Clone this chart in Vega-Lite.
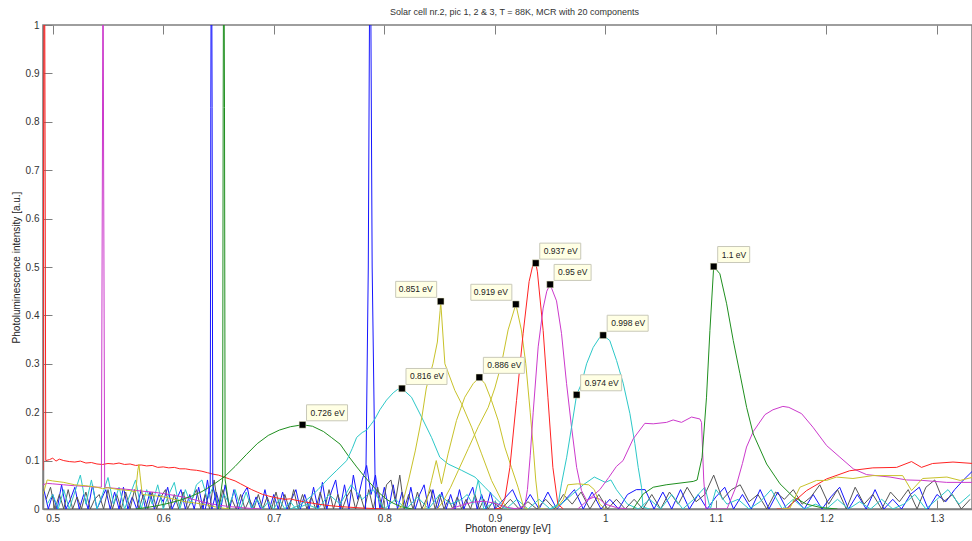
{
"$schema": "https://vega.github.io/schema/vega-lite/v6.json",
"autosize": {"type": "none"},
"padding": {"left": 43, "top": 25, "right": 0, "bottom": 32},
"width": 929,
"height": 484,
"background": "white",
"title": {"text": "Solar cell nr.2, pic 1, 2 & 3, T = 88K, MCR with 20 components", "fontSize": 9, "fontWeight": "normal", "color": "#333", "offset": 3, "dx": 7},
"config": {"font": "Liberation Sans", "view": {"stroke": "#7f7f7f", "strokeWidth": 1.5},
 "axisY": {"grid": false, "tickSize": -9, "labelPadding": 13, "tickColor": "#7f7f7f", "domainColor": "#7f7f7f", "domainWidth": 1.5, "labelFontSize": 10, "labelColor": "#333", "titleFontSize": 10, "titleFontWeight": "normal", "titleColor": "#222", "titlePadding": 4, "labelFlush": false}},
"datasets": {
"tips": [
{"x": 0.726, "y": 0.174, "label": "0.726 eV"},
{"x": 0.816, "y": 0.249, "label": "0.816 eV"},
{"x": 0.851, "y": 0.429, "label": "0.851 eV"},
{"x": 0.886, "y": 0.272, "label": "0.886 eV"},
{"x": 0.919, "y": 0.423, "label": "0.919 eV"},
{"x": 0.937, "y": 0.508, "label": "0.937 eV"},
{"x": 0.95, "y": 0.464, "label": "0.95 eV"},
{"x": 0.974, "y": 0.236, "label": "0.974 eV"},
{"x": 0.998, "y": 0.359, "label": "0.998 eV"},
{"x": 1.098, "y": 0.501, "label": "1.1 eV"}
],
"lines": [
{"s":"b3","x":0.492,"y":0.04},{"s":"b3","x":0.496,"y":0},{"s":"b3","x":0.5,"y":0.03},{"s":"b3","x":0.504,"y":0},{"s":"b3","x":0.508,"y":0.05},{"s":"b3","x":0.512,"y":0},{"s":"b3","x":0.516,"y":0.02},{"s":"b3","x":0.52,"y":0.045},{"s":"b3","x":0.524,"y":0},{"s":"b3","x":0.528,"y":0.03},{"s":"b3","x":0.532,"y":0},{"s":"b3","x":0.536,"y":0.05},{"s":"b3","x":0.54,"y":0},{"s":"b3","x":0.544,"y":0.02},{"s":"b3","x":0.548,"y":0.04},{"s":"b3","x":0.552,"y":0},{"s":"b3","x":0.556,"y":0.035},{"s":"b3","x":0.56,"y":0},{"s":"b3","x":0.564,"y":0.045},{"s":"b3","x":0.568,"y":0},{"s":"b3","x":0.572,"y":0.025},{"s":"b3","x":0.576,"y":0},{"s":"b3","x":0.58,"y":0.04},{"s":"b3","x":0.584,"y":0},{"s":"b3","x":0.588,"y":0.035},{"s":"b3","x":0.592,"y":0},{"s":"b3","x":0.596,"y":0.03},{"s":"b3","x":0.6,"y":0.015},{"s":"b3","x":0.604,"y":0.045},{"s":"b3","x":0.608,"y":0},{"s":"b3","x":0.612,"y":0.02},{"s":"b3","x":0.616,"y":0.04},{"s":"b3","x":0.62,"y":0},{"s":"b3","x":0.624,"y":0.03},{"s":"b3","x":0.628,"y":0},{"s":"b3","x":0.632,"y":0.045},{"s":"b3","x":0.636,"y":0},{"s":"b3","x":0.64,"y":0.06},{"s":"b3","x":0.644,"y":0},{"s":"b3","x":0.648,"y":0.035},{"s":"b3","x":0.652,"y":0},{"s":"b3","x":0.656,"y":0.05},{"s":"b3","x":0.66,"y":0},{"s":"b3","x":0.664,"y":0.04},{"s":"b3","x":0.668,"y":0},{"s":"b3","x":0.672,"y":0.03},{"s":"b3","x":0.676,"y":0.045},{"s":"b3","x":0.68,"y":0},{"s":"b3","x":0.684,"y":0.025},{"s":"b3","x":0.688,"y":0},{"s":"b3","x":0.692,"y":0.04},{"s":"b3","x":0.696,"y":0},{"s":"b3","x":0.7,"y":0.03},{"s":"b3","x":0.704,"y":0},{"s":"b3","x":0.708,"y":0.035},{"s":"b3","x":0.712,"y":0},{"s":"b3","x":0.716,"y":0.02},{"s":"b3","x":0.72,"y":0.04},{"s":"b3","x":0.724,"y":0},{"s":"b3","x":0.728,"y":0.03},{"s":"b3","x":0.732,"y":0},{"s":"b3","x":0.736,"y":0.045},{"s":"b3","x":0.74,"y":0},{"s":"b3","x":0.744,"y":0.055},{"s":"b3","x":0.748,"y":0},{"s":"b3","x":0.752,"y":0.035},{"s":"b3","x":0.756,"y":0.06},{"s":"b3","x":0.76,"y":0},{"s":"b3","x":0.764,"y":0.05},{"s":"b3","x":0.768,"y":0},{"s":"b3","x":0.772,"y":0.07},{"s":"b3","x":0.776,"y":0.02},{"s":"b3","x":0.78,"y":0.06},{"s":"b3","x":0.784,"y":0.09},{"s":"b3","x":0.788,"y":0.03},{"s":"b3","x":0.792,"y":0.07},{"s":"b3","x":0.796,"y":0},{"s":"b3","x":0.8,"y":0.045},{"s":"b3","x":0.804,"y":0},{"s":"b3","x":0.808,"y":0.05},{"s":"b3","x":0.812,"y":0},{"s":"b3","x":0.816,"y":0.035},{"s":"b3","x":0.82,"y":0},{"s":"b3","x":0.824,"y":0.045},{"s":"b3","x":0.828,"y":0},{"s":"b3","x":0.832,"y":0.03},{"s":"b3","x":0.836,"y":0.05},{"s":"b3","x":0.84,"y":0},{"s":"b3","x":0.844,"y":0.04},{"s":"b3","x":0.848,"y":0},{"s":"b3","x":0.852,"y":0.035},{"s":"b3","x":0.856,"y":0},{"s":"b3","x":0.86,"y":0.03},{"s":"b3","x":0.864,"y":0},{"s":"b3","x":0.868,"y":0.04},{"s":"b3","x":0.872,"y":0},{"s":"b3","x":0.876,"y":0.025},{"s":"b3","x":0.88,"y":0.045},{"s":"b3","x":0.884,"y":0},{"s":"b3","x":0.888,"y":0.03},{"s":"b3","x":0.892,"y":0},{"s":"b3","x":0.896,"y":0.035},{"s":"b3","x":0.9,"y":0},{"s":"b3","x":0.908,"y":0.02},{"s":"b3","x":0.916,"y":0.04},{"s":"b3","x":0.924,"y":0},{"s":"b3","x":0.932,"y":0.03},{"s":"b3","x":0.94,"y":0},{"s":"b3","x":0.948,"y":0.035},{"s":"b3","x":0.956,"y":0},{"s":"b3","x":0.964,"y":0.02},{"s":"b3","x":0.972,"y":0.04},{"s":"b3","x":0.98,"y":0},{"s":"b3","x":0.988,"y":0.035},{"s":"b3","x":0.996,"y":0},{"s":"b3","x":1.004,"y":0.02},{"s":"b3","x":1.012,"y":0},{"s":"b3","x":1.02,"y":0.03},{"s":"b3","x":1.028,"y":0.04},{"s":"b3","x":1.036,"y":0.04},{"s":"b3","x":1.044,"y":0},{"s":"b3","x":1.052,"y":0.035},{"s":"b3","x":1.06,"y":0},{"s":"b3","x":1.068,"y":0.04},{"s":"b3","x":1.076,"y":0},{"s":"b3","x":1.084,"y":0.03},{"s":"b3","x":1.092,"y":0},{"s":"b3","x":1.1,"y":0.025},{"s":"b3","x":1.108,"y":0.045},{"s":"b3","x":1.116,"y":0},{"s":"b3","x":1.124,"y":0.03},{"s":"b3","x":1.132,"y":0},{"s":"b3","x":1.14,"y":0.04},{"s":"b3","x":1.148,"y":0},{"s":"b3","x":1.156,"y":0.035},{"s":"b3","x":1.164,"y":0},{"s":"b3","x":1.172,"y":0.02},{"s":"b3","x":1.18,"y":0},{"s":"b3","x":1.188,"y":0.03},{"s":"b3","x":1.196,"y":0},{"s":"b3","x":1.204,"y":0.025},{"s":"b3","x":1.212,"y":0.045},{"s":"b3","x":1.22,"y":0},{"s":"b3","x":1.228,"y":0.03},{"s":"b3","x":1.236,"y":0},{"s":"b3","x":1.244,"y":0.04},{"s":"b3","x":1.252,"y":0},{"s":"b3","x":1.26,"y":0.02},{"s":"b3","x":1.268,"y":0},{"s":"b3","x":1.276,"y":0.03},{"s":"b3","x":1.284,"y":0.045},{"s":"b3","x":1.292,"y":0},{"s":"b3","x":1.3,"y":0.03},{"s":"b3","x":1.308,"y":0.015},{"s":"b3","x":1.316,"y":0.04},{"s":"b3","x":1.324,"y":0.06},{"s":"b3","x":1.332,"y":0.078},
{"s":"k1","x":0.494,"y":0.02},{"s":"k1","x":0.498,"y":0.045},{"s":"k1","x":0.502,"y":0},{"s":"k1","x":0.506,"y":0.03},{"s":"k1","x":0.51,"y":0},{"s":"k1","x":0.514,"y":0.04},{"s":"k1","x":0.518,"y":0},{"s":"k1","x":0.522,"y":0.025},{"s":"k1","x":0.526,"y":0},{"s":"k1","x":0.53,"y":0.035},{"s":"k1","x":0.534,"y":0},{"s":"k1","x":0.538,"y":0.02},{"s":"k1","x":0.542,"y":0.03},{"s":"k1","x":0.546,"y":0},{"s":"k1","x":0.55,"y":0.04},{"s":"k1","x":0.554,"y":0},{"s":"k1","x":0.558,"y":0.03},{"s":"k1","x":0.562,"y":0},{"s":"k1","x":0.566,"y":0.035},{"s":"k1","x":0.57,"y":0},{"s":"k1","x":0.574,"y":0.04},{"s":"k1","x":0.578,"y":0},{"s":"k1","x":0.582,"y":0.03},{"s":"k1","x":0.586,"y":0},{"s":"k1","x":0.59,"y":0.035},{"s":"k1","x":0.594,"y":0},{"s":"k1","x":0.598,"y":0.025},{"s":"k1","x":0.602,"y":0.04},{"s":"k1","x":0.606,"y":0},{"s":"k1","x":0.61,"y":0.03},{"s":"k1","x":0.614,"y":0},{"s":"k1","x":0.618,"y":0.035},{"s":"k1","x":0.622,"y":0},{"s":"k1","x":0.626,"y":0.02},{"s":"k1","x":0.63,"y":0.04},{"s":"k1","x":0.634,"y":0},{"s":"k1","x":0.638,"y":0.03},{"s":"k1","x":0.642,"y":0},{"s":"k1","x":0.646,"y":0.06},{"s":"k1","x":0.65,"y":0},{"s":"k1","x":0.654,"y":0.04},{"s":"k1","x":0.658,"y":0},{"s":"k1","x":0.662,"y":0.02},{"s":"k1","x":0.666,"y":0},{"s":"k1","x":0.67,"y":0.03},{"s":"k1","x":0.674,"y":0},{"s":"k1","x":0.678,"y":0.02},{"s":"k1","x":0.682,"y":0},{"s":"k1","x":0.686,"y":0.03},{"s":"k1","x":0.69,"y":0},{"s":"k1","x":0.694,"y":0.025},{"s":"k1","x":0.698,"y":0},{"s":"k1","x":0.702,"y":0.035},{"s":"k1","x":0.706,"y":0},{"s":"k1","x":0.71,"y":0.03},{"s":"k1","x":0.714,"y":0},{"s":"k1","x":0.718,"y":0.04},{"s":"k1","x":0.722,"y":0},{"s":"k1","x":0.726,"y":0.03},{"s":"k1","x":0.73,"y":0},{"s":"k1","x":0.734,"y":0.025},{"s":"k1","x":0.738,"y":0},{"s":"k1","x":0.742,"y":0.035},{"s":"k1","x":0.746,"y":0},{"s":"k1","x":0.75,"y":0.04},{"s":"k1","x":0.754,"y":0},{"s":"k1","x":0.758,"y":0.03},{"s":"k1","x":0.762,"y":0},{"s":"k1","x":0.766,"y":0.025},{"s":"k1","x":0.77,"y":0.04},{"s":"k1","x":0.774,"y":0},{"s":"k1","x":0.778,"y":0.03},{"s":"k1","x":0.782,"y":0},{"s":"k1","x":0.786,"y":0.04},{"s":"k1","x":0.79,"y":0},{"s":"k1","x":0.794,"y":0.045},{"s":"k1","x":0.798,"y":0},{"s":"k1","x":0.802,"y":0.05},{"s":"k1","x":0.806,"y":0.06},{"s":"k1","x":0.81,"y":0.015},{"s":"k1","x":0.814,"y":0.07},{"s":"k1","x":0.818,"y":0},{"s":"k1","x":0.822,"y":0.03},{"s":"k1","x":0.826,"y":0},{"s":"k1","x":0.83,"y":0.035},{"s":"k1","x":0.834,"y":0},{"s":"k1","x":0.838,"y":0.02},{"s":"k1","x":0.842,"y":0.04},{"s":"k1","x":0.846,"y":0},{"s":"k1","x":0.85,"y":0.03},{"s":"k1","x":0.854,"y":0},{"s":"k1","x":0.858,"y":0.02},{"s":"k1","x":0.862,"y":0},{"s":"k1","x":0.866,"y":0.025},{"s":"k1","x":0.87,"y":0},{"s":"k1","x":0.874,"y":0.02},{"s":"k1","x":0.878,"y":0},{"s":"k1","x":0.882,"y":0.03},{"s":"k1","x":0.886,"y":0},{"s":"k1","x":0.89,"y":0.02},{"s":"k1","x":0.894,"y":0},{"s":"k1","x":0.898,"y":0.015},{"s":"k1","x":0.906,"y":0},{"s":"k1","x":0.914,"y":0.02},{"s":"k1","x":0.922,"y":0},{"s":"k1","x":0.93,"y":0.015},{"s":"k1","x":0.938,"y":0},{"s":"k1","x":0.946,"y":0.02},{"s":"k1","x":0.954,"y":0},{"s":"k1","x":0.962,"y":0.03},{"s":"k1","x":0.97,"y":0.01},{"s":"k1","x":0.978,"y":0.035},{"s":"k1","x":0.986,"y":0},{"s":"k1","x":0.994,"y":0.03},{"s":"k1","x":1.002,"y":0},{"s":"k1","x":1.01,"y":0.02},{"s":"k1","x":1.018,"y":0},{"s":"k1","x":1.026,"y":0.02},{"s":"k1","x":1.034,"y":0},{"s":"k1","x":1.042,"y":0.03},{"s":"k1","x":1.05,"y":0},{"s":"k1","x":1.058,"y":0.035},{"s":"k1","x":1.066,"y":0.01},{"s":"k1","x":1.074,"y":0.045},{"s":"k1","x":1.082,"y":0.015},{"s":"k1","x":1.09,"y":0.03},{"s":"k1","x":1.098,"y":0.07},{"s":"k1","x":1.106,"y":0.02},{"s":"k1","x":1.114,"y":0.04},{"s":"k1","x":1.122,"y":0.05},{"s":"k1","x":1.13,"y":0.015},{"s":"k1","x":1.138,"y":0.03},{"s":"k1","x":1.146,"y":0},{"s":"k1","x":1.154,"y":0.035},{"s":"k1","x":1.162,"y":0.02},{"s":"k1","x":1.17,"y":0.04},{"s":"k1","x":1.178,"y":0.01},{"s":"k1","x":1.186,"y":0.025},{"s":"k1","x":1.194,"y":0.05},{"s":"k1","x":1.202,"y":0.01},{"s":"k1","x":1.21,"y":0.04},{"s":"k1","x":1.218,"y":0},{"s":"k1","x":1.226,"y":0.045},{"s":"k1","x":1.234,"y":0.01},{"s":"k1","x":1.242,"y":0.03},{"s":"k1","x":1.25,"y":0},{"s":"k1","x":1.258,"y":0.035},{"s":"k1","x":1.266,"y":0.015},{"s":"k1","x":1.274,"y":0.04},{"s":"k1","x":1.282,"y":0},{"s":"k1","x":1.29,"y":0.045},{"s":"k1","x":1.298,"y":0.06},{"s":"k1","x":1.306,"y":0.015},{"s":"k1","x":1.314,"y":0.03},{"s":"k1","x":1.322,"y":0},{"s":"k1","x":1.33,"y":0.02},
{"s":"c4","x":0.495,"y":0.01},{"s":"c4","x":0.5,"y":0.03},{"s":"c4","x":0.505,"y":0},{"s":"c4","x":0.51,"y":0.04},{"s":"c4","x":0.515,"y":0},{"s":"c4","x":0.52,"y":0.035},{"s":"c4","x":0.525,"y":0.07},{"s":"c4","x":0.53,"y":0.01},{"s":"c4","x":0.535,"y":0.06},{"s":"c4","x":0.54,"y":0},{"s":"c4","x":0.545,"y":0.03},{"s":"c4","x":0.55,"y":0.065},{"s":"c4","x":0.555,"y":0.01},{"s":"c4","x":0.56,"y":0.045},{"s":"c4","x":0.565,"y":0},{"s":"c4","x":0.57,"y":0.03},{"s":"c4","x":0.575,"y":0.06},{"s":"c4","x":0.58,"y":0},{"s":"c4","x":0.585,"y":0.04},{"s":"c4","x":0.59,"y":0.01},{"s":"c4","x":0.595,"y":0.05},{"s":"c4","x":0.6,"y":0},{"s":"c4","x":0.605,"y":0.03},{"s":"c4","x":0.61,"y":0.055},{"s":"c4","x":0.615,"y":0},{"s":"c4","x":0.62,"y":0.04},{"s":"c4","x":0.625,"y":0.01},{"s":"c4","x":0.63,"y":0.05},{"s":"c4","x":0.635,"y":0.06},{"s":"c4","x":0.64,"y":0.02},{"s":"c4","x":0.645,"y":0.045},{"s":"c4","x":0.65,"y":0},{"s":"c4","x":0.655,"y":0.03},{"s":"c4","x":0.66,"y":0.01},{"s":"c4","x":0.665,"y":0.04},{"s":"c4","x":0.67,"y":0},{"s":"c4","x":0.675,"y":0.035},{"s":"c4","x":0.68,"y":0},{"s":"c4","x":0.685,"y":0.02},{"s":"c4","x":0.69,"y":0},{"s":"c4","x":0.695,"y":0.015},{"s":"c4","x":0.7,"y":0},{"s":"c4","x":0.705,"y":0.02},{"s":"c4","x":0.71,"y":0},{"s":"c4","x":0.715,"y":0.015},{"s":"c4","x":0.72,"y":0},{"s":"c4","x":0.73,"y":0.01},{"s":"c4","x":0.74,"y":0},{"s":"c4","x":0.75,"y":0.03},{"s":"c4","x":0.76,"y":0.01},{"s":"c4","x":0.77,"y":0.05},{"s":"c4","x":0.78,"y":0.02},{"s":"c4","x":0.79,"y":0.04},{"s":"c4","x":0.8,"y":0},{"s":"c4","x":0.81,"y":0.02},{"s":"c4","x":0.82,"y":0},{"s":"c4","x":0.83,"y":0.025},{"s":"c4","x":0.84,"y":0},{"s":"c4","x":0.85,"y":0.03},{"s":"c4","x":0.86,"y":0.01},{"s":"c4","x":0.87,"y":0.02},{"s":"c4","x":0.875,"y":0.03},{"s":"c4","x":0.88,"y":0.01},{"s":"c4","x":0.885,"y":0.06},{"s":"c4","x":0.89,"y":0},{"s":"c4","x":0.9,"y":0.015},{"s":"c4","x":0.91,"y":0},{"s":"c4","x":0.92,"y":0.02},{"s":"c4","x":0.93,"y":0},{"s":"c4","x":0.94,"y":0.02},{"s":"c4","x":0.95,"y":0},{"s":"c4","x":0.96,"y":0.01},{"s":"c4","x":0.97,"y":0.03},{"s":"c4","x":0.98,"y":0.05},{"s":"c4","x":0.99,"y":0.066},{"s":"c4","x":1.0,"y":0.055},{"s":"c4","x":1.005,"y":0.06},{"s":"c4","x":1.01,"y":0.04},{"s":"c4","x":1.02,"y":0.01},{"s":"c4","x":1.03,"y":0},{"s":"c4","x":1.04,"y":0.02},{"s":"c4","x":1.05,"y":0},{"s":"c4","x":1.06,"y":0.03},{"s":"c4","x":1.07,"y":0},{"s":"c4","x":1.08,"y":0.02},{"s":"c4","x":1.09,"y":0.045},{"s":"c4","x":1.095,"y":0},{"s":"c4","x":1.1,"y":0.04},{"s":"c4","x":1.11,"y":0.01},{"s":"c4","x":1.12,"y":0.02},{"s":"c4","x":1.13,"y":0},{"s":"c4","x":1.14,"y":0.015},{"s":"c4","x":1.15,"y":0.04},{"s":"c4","x":1.16,"y":0},{"s":"c4","x":1.17,"y":0.02},{"s":"c4","x":1.18,"y":0},{"s":"c4","x":1.19,"y":0.01},{"s":"c4","x":1.2,"y":0},{"s":"c4","x":1.21,"y":0.02},{"s":"c4","x":1.22,"y":0},{"s":"c4","x":1.23,"y":0.015},{"s":"c4","x":1.24,"y":0},{"s":"c4","x":1.25,"y":0.02},{"s":"c4","x":1.26,"y":0},{"s":"c4","x":1.27,"y":0.01},{"s":"c4","x":1.28,"y":0.03},{"s":"c4","x":1.29,"y":0},{"s":"c4","x":1.3,"y":0.02},{"s":"c4","x":1.31,"y":0.04},{"s":"c4","x":1.32,"y":0.01},{"s":"c4","x":1.33,"y":0.03},
{"s":"r1","x":0.4912,"y":0.08},{"s":"r1","x":0.4918,"y":0.75},{"s":"r1","x":0.4925,"y":1.3},{"s":"r1","x":0.4931,"y":0.75},{"s":"r1","x":0.4937,"y":0.1},{"s":"r1","x":0.497,"y":0.102},{"s":"r1","x":0.5,"y":0.105},{"s":"r1","x":0.503,"y":0.099},{"s":"r1","x":0.506,"y":0.103},{"s":"r1","x":0.51,"y":0.1},{"s":"r1","x":0.515,"y":0.098},{"s":"r1","x":0.52,"y":0.097},{"s":"r1","x":0.525,"y":0.099},{"s":"r1","x":0.53,"y":0.095},{"s":"r1","x":0.535,"y":0.096},{"s":"r1","x":0.54,"y":0.093},{"s":"r1","x":0.545,"y":0.092},{"s":"r1","x":0.55,"y":0.094},{"s":"r1","x":0.555,"y":0.093},{"s":"r1","x":0.56,"y":0.095},{"s":"r1","x":0.565,"y":0.092},{"s":"r1","x":0.57,"y":0.093},{"s":"r1","x":0.575,"y":0.09},{"s":"r1","x":0.58,"y":0.091},{"s":"r1","x":0.585,"y":0.089},{"s":"r1","x":0.59,"y":0.09},{"s":"r1","x":0.595,"y":0.086},{"s":"r1","x":0.6,"y":0.087},{"s":"r1","x":0.605,"y":0.085},{"s":"r1","x":0.61,"y":0.086},{"s":"r1","x":0.615,"y":0.083},{"s":"r1","x":0.62,"y":0.083},{"s":"r1","x":0.625,"y":0.081},{"s":"r1","x":0.63,"y":0.08},{"s":"r1","x":0.635,"y":0.078},{"s":"r1","x":0.64,"y":0.075},{"s":"r1","x":0.645,"y":0.072},{"s":"r1","x":0.65,"y":0.07},{"s":"r1","x":0.655,"y":0.066},{"s":"r1","x":0.66,"y":0.062},{"s":"r1","x":0.665,"y":0.058},{"s":"r1","x":0.67,"y":0.052},{"s":"r1","x":0.675,"y":0.046},{"s":"r1","x":0.68,"y":0.04},{"s":"r1","x":0.685,"y":0.035},{"s":"r1","x":0.69,"y":0.03},{"s":"r1","x":0.695,"y":0.027},{"s":"r1","x":0.7,"y":0.024},{"s":"r1","x":0.705,"y":0.022},{"s":"r1","x":0.71,"y":0.02},{"s":"r1","x":0.715,"y":0.021},{"s":"r1","x":0.72,"y":0.018},{"s":"r1","x":0.73,"y":0.014},{"s":"r1","x":0.74,"y":0.01},{"s":"r1","x":0.75,"y":0.007},{"s":"r1","x":0.76,"y":0.005},{"s":"r1","x":0.78,"y":0.002},{"s":"r1","x":0.8,"y":0},
{"s":"m1","x":0.4912,"y":0.05},{"s":"m1","x":0.495,"y":0.053},{"s":"m1","x":0.5,"y":0.052},{"s":"m1","x":0.51,"y":0.05},{"s":"m1","x":0.52,"y":0.048},{"s":"m1","x":0.53,"y":0.047},{"s":"m1","x":0.54,"y":0.045},{"s":"m1","x":0.544,"y":0.045},{"s":"m1","x":0.545,"y":0.75},{"s":"m1","x":0.5455,"y":1.3},{"s":"m1","x":0.546,"y":0.75},{"s":"m1","x":0.547,"y":0.045},{"s":"m1","x":0.55,"y":0.044},{"s":"m1","x":0.56,"y":0.042},{"s":"m1","x":0.57,"y":0.04},{"s":"m1","x":0.58,"y":0.037},{"s":"m1","x":0.59,"y":0.035},{"s":"m1","x":0.6,"y":0.032},{"s":"m1","x":0.61,"y":0.028},{"s":"m1","x":0.62,"y":0.024},{"s":"m1","x":0.63,"y":0.018},{"s":"m1","x":0.64,"y":0.012},{"s":"m1","x":0.65,"y":0.008},{"s":"m1","x":0.66,"y":0.005},{"s":"m1","x":0.67,"y":0.003},{"s":"m1","x":0.68,"y":0.001},{"s":"m1","x":0.69,"y":0},
{"s":"y1","x":0.4912,"y":0.03},{"s":"y1","x":0.495,"y":0.06},{"s":"y1","x":0.5,"y":0.058},{"s":"y1","x":0.51,"y":0.055},{"s":"y1","x":0.52,"y":0.05},{"s":"y1","x":0.53,"y":0.048},{"s":"y1","x":0.54,"y":0.045},{"s":"y1","x":0.545,"y":0.042},{"s":"y1","x":0.55,"y":0.044},{"s":"y1","x":0.56,"y":0.04},{"s":"y1","x":0.57,"y":0.038},{"s":"y1","x":0.575,"y":0.035},{"s":"y1","x":0.577,"y":0.08},{"s":"y1","x":0.578,"y":0.092},{"s":"y1","x":0.579,"y":0.07},{"s":"y1","x":0.581,"y":0.03},{"s":"y1","x":0.59,"y":0.028},{"s":"y1","x":0.6,"y":0.025},{"s":"y1","x":0.61,"y":0.02},{"s":"y1","x":0.62,"y":0.015},{"s":"y1","x":0.63,"y":0.012},{"s":"y1","x":0.64,"y":0.008},{"s":"y1","x":0.65,"y":0.003},{"s":"y1","x":0.66,"y":0},
{"s":"b1","x":0.638,"y":0},{"s":"b1","x":0.6425,"y":0.05},{"s":"b1","x":0.643,"y":0.83},{"s":"b1","x":0.6436,"y":1.3},{"s":"b1","x":0.6442,"y":0.83},{"s":"b1","x":0.6448,"y":0.05},{"s":"b1","x":0.649,"y":0},
{"s":"g1","x":0.65,"y":0},{"s":"g1","x":0.6537,"y":0.06},{"s":"g1","x":0.6542,"y":0.83},{"s":"g1","x":0.6548,"y":1.3},{"s":"g1","x":0.6554,"y":0.83},{"s":"g1","x":0.656,"y":0.06},{"s":"g1","x":0.66,"y":0},
{"s":"b2","x":0.783,"y":0},{"s":"b2","x":0.7855,"y":0.5},{"s":"b2","x":0.7872,"y":1.3},{"s":"b2","x":0.789,"y":0.5},{"s":"b2","x":0.792,"y":0},
{"s":"g2","x":0.575,"y":0},{"s":"g2","x":0.585,"y":0.003},{"s":"g2","x":0.595,"y":0.007},{"s":"g2","x":0.605,"y":0.012},{"s":"g2","x":0.615,"y":0.018},{"s":"g2","x":0.625,"y":0.026},{"s":"g2","x":0.635,"y":0.036},{"s":"g2","x":0.645,"y":0.05},{"s":"g2","x":0.655,"y":0.066},{"s":"g2","x":0.665,"y":0.088},{"s":"g2","x":0.675,"y":0.112},{"s":"g2","x":0.685,"y":0.135},{"s":"g2","x":0.695,"y":0.152},{"s":"g2","x":0.705,"y":0.163},{"s":"g2","x":0.715,"y":0.17},{"s":"g2","x":0.726,"y":0.174},{"s":"g2","x":0.735,"y":0.171},{"s":"g2","x":0.745,"y":0.16},{"s":"g2","x":0.752,"y":0.148},{"s":"g2","x":0.76,"y":0.134},{"s":"g2","x":0.768,"y":0.108},{"s":"g2","x":0.775,"y":0.087},{"s":"g2","x":0.781,"y":0.07},{"s":"g2","x":0.787,"y":0.054},{"s":"g2","x":0.795,"y":0.034},{"s":"g2","x":0.802,"y":0.02},{"s":"g2","x":0.808,"y":0.012},{"s":"g2","x":0.815,"y":0.005},{"s":"g2","x":0.825,"y":0},
{"s":"c1","x":0.715,"y":0},{"s":"c1","x":0.725,"y":0.01},{"s":"c1","x":0.733,"y":0.025},{"s":"c1","x":0.74,"y":0.04},{"s":"c1","x":0.748,"y":0.06},{"s":"c1","x":0.757,"y":0.08},{"s":"c1","x":0.766,"y":0.1},{"s":"c1","x":0.771,"y":0.125},{"s":"c1","x":0.775,"y":0.148},{"s":"c1","x":0.78,"y":0.158},{"s":"c1","x":0.784,"y":0.163},{"s":"c1","x":0.788,"y":0.175},{"s":"c1","x":0.791,"y":0.184},{"s":"c1","x":0.796,"y":0.205},{"s":"c1","x":0.802,"y":0.225},{"s":"c1","x":0.808,"y":0.24},{"s":"c1","x":0.812,"y":0.247},{"s":"c1","x":0.816,"y":0.249},{"s":"c1","x":0.8246,"y":0.231},{"s":"c1","x":0.8337,"y":0.19},{"s":"c1","x":0.8427,"y":0.148},{"s":"c1","x":0.8502,"y":0.107},{"s":"c1","x":0.8577,"y":0.093},{"s":"c1","x":0.8698,"y":0.08},{"s":"c1","x":0.882,"y":0.066},{"s":"c1","x":0.891,"y":0.045},{"s":"c1","x":0.9,"y":0.024},{"s":"c1","x":0.909,"y":0.004},{"s":"c1","x":0.915,"y":0},
{"s":"y2","x":0.812,"y":0},{"s":"y2","x":0.8156,"y":0.004},{"s":"y2","x":0.822,"y":0.06},{"s":"y2","x":0.828,"y":0.12},{"s":"y2","x":0.834,"y":0.19},{"s":"y2","x":0.838,"y":0.25},{"s":"y2","x":0.844,"y":0.3},{"s":"y2","x":0.848,"y":0.345},{"s":"y2","x":0.8505,"y":0.41},{"s":"y2","x":0.851,"y":0.429},{"s":"y2","x":0.8548,"y":0.3},{"s":"y2","x":0.8638,"y":0.245},{"s":"y2","x":0.8698,"y":0.218},{"s":"y2","x":0.879,"y":0.169},{"s":"y2","x":0.888,"y":0.114},{"s":"y2","x":0.897,"y":0.059},{"s":"y2","x":0.906,"y":0.018},{"s":"y2","x":0.912,"y":0},
{"s":"y3","x":0.835,"y":0},{"s":"y3","x":0.8367,"y":0.002},{"s":"y3","x":0.8427,"y":0.059},{"s":"y3","x":0.847,"y":0.1},{"s":"y3","x":0.8517,"y":0.052},{"s":"y3","x":0.8577,"y":0.114},{"s":"y3","x":0.8653,"y":0.183},{"s":"y3","x":0.8728,"y":0.231},{"s":"y3","x":0.8804,"y":0.259},{"s":"y3","x":0.886,"y":0.272},{"s":"y3","x":0.891,"y":0.259},{"s":"y3","x":0.897,"y":0.224},{"s":"y3","x":0.903,"y":0.183},{"s":"y3","x":0.909,"y":0.128},{"s":"y3","x":0.915,"y":0.086},{"s":"y3","x":0.921,"y":0.045},{"s":"y3","x":0.926,"y":0.004},{"s":"y3","x":0.93,"y":0},
{"s":"y6","x":0.848,"y":0},{"s":"y6","x":0.853,"y":0.015},{"s":"y6","x":0.86,"y":0.045},{"s":"y6","x":0.867,"y":0.08},{"s":"y6","x":0.876,"y":0.125},{"s":"y6","x":0.885,"y":0.17},{"s":"y6","x":0.894,"y":0.21},{"s":"y6","x":0.9,"y":0.25},{"s":"y6","x":0.906,"y":0.3},{"s":"y6","x":0.912,"y":0.37},{"s":"y6","x":0.919,"y":0.423},{"s":"y6","x":0.924,"y":0.37},{"s":"y6","x":0.928,"y":0.3},{"s":"y6","x":0.932,"y":0.2},{"s":"y6","x":0.935,"y":0.12},{"s":"y6","x":0.937,"y":0.06},{"s":"y6","x":0.94,"y":0},{"s":"y6","x":0.945,"y":0},
{"s":"m5","x":0.86,"y":0},{"s":"m5","x":0.87,"y":0.008},{"s":"m5","x":0.88,"y":0.014},{"s":"m5","x":0.89,"y":0.016},{"s":"m5","x":0.9,"y":0.012},{"s":"m5","x":0.91,"y":0.004},{"s":"m5","x":0.92,"y":0},
{"s":"r2","x":0.9,"y":0},{"s":"r2","x":0.905,"y":0.002},{"s":"r2","x":0.909,"y":0.02},{"s":"r2","x":0.9136,"y":0.086},{"s":"r2","x":0.9196,"y":0.224},{"s":"r2","x":0.9256,"y":0.363},{"s":"r2","x":0.931,"y":0.47},{"s":"r2","x":0.9345,"y":0.505},{"s":"r2","x":0.937,"y":0.508},{"s":"r2","x":0.9385,"y":0.49},{"s":"r2","x":0.9437,"y":0.369},{"s":"r2","x":0.948,"y":0.231},{"s":"r2","x":0.9525,"y":0.086},{"s":"r2","x":0.957,"y":0.01},{"s":"r2","x":0.962,"y":0},
{"s":"m2","x":0.915,"y":0},{"s":"m2","x":0.922,"y":0.002},{"s":"m2","x":0.927,"y":0.005},{"s":"m2","x":0.9295,"y":0.04},{"s":"m2","x":0.932,"y":0.11},{"s":"m2","x":0.9347,"y":0.2},{"s":"m2","x":0.9392,"y":0.335},{"s":"m2","x":0.9437,"y":0.415},{"s":"m2","x":0.947,"y":0.45},{"s":"m2","x":0.95,"y":0.464},{"s":"m2","x":0.9558,"y":0.43},{"s":"m2","x":0.9603,"y":0.363},{"s":"m2","x":0.9649,"y":0.259},{"s":"m2","x":0.9694,"y":0.169},{"s":"m2","x":0.974,"y":0.086},{"s":"m2","x":0.9784,"y":0.038},{"s":"m2","x":0.983,"y":0.018},{"s":"m2","x":0.99,"y":0.025},{"s":"m2","x":0.995,"y":0.02},{"s":"m2","x":1.0,"y":0.01},{"s":"m2","x":1.01,"y":0.003},{"s":"m2","x":1.02,"y":0},
{"s":"c2","x":0.95,"y":0},{"s":"c2","x":0.9573,"y":0.01},{"s":"c2","x":0.9603,"y":0.052},{"s":"c2","x":0.965,"y":0.107},{"s":"c2","x":0.9694,"y":0.169},{"s":"c2","x":0.974,"y":0.236},{"s":"c2","x":0.9784,"y":0.259},{"s":"c2","x":0.983,"y":0.3},{"s":"c2","x":0.989,"y":0.334},{"s":"c2","x":0.995,"y":0.355},{"s":"c2","x":0.998,"y":0.359},{"s":"c2","x":1.004,"y":0.348},{"s":"c2","x":1.0101,"y":0.307},{"s":"c2","x":1.0161,"y":0.26},{"s":"c2","x":1.0222,"y":0.197},{"s":"c2","x":1.0267,"y":0.135},{"s":"c2","x":1.0297,"y":0.086},{"s":"c2","x":1.0327,"y":0.045},{"s":"c2","x":1.034,"y":0.004},{"s":"c2","x":1.04,"y":0},
{"s":"y4","x":0.955,"y":0},{"s":"y4","x":0.962,"y":0.02},{"s":"y4","x":0.966,"y":0.05},{"s":"y4","x":0.975,"y":0.052},{"s":"y4","x":0.985,"y":0.05},{"s":"y4","x":0.99,"y":0.04},{"s":"y4","x":0.995,"y":0.01},{"s":"y4","x":1.0,"y":0},
{"s":"m3","x":0.975,"y":0},{"s":"m3","x":0.985,"y":0.02},{"s":"m3","x":0.995,"y":0.04},{"s":"m3","x":1.003,"y":0.065},{"s":"m3","x":1.01,"y":0.088},{"s":"m3","x":1.016,"y":0.1},{"s":"m3","x":1.0252,"y":0.145},{"s":"m3","x":1.0357,"y":0.177},{"s":"m3","x":1.0433,"y":0.176},{"s":"m3","x":1.0554,"y":0.179},{"s":"m3","x":1.0613,"y":0.184},{"s":"m3","x":1.0689,"y":0.179},{"s":"m3","x":1.078,"y":0.19},{"s":"m3","x":1.0855,"y":0.186},{"s":"m3","x":1.087,"y":0.179},{"s":"m3","x":1.089,"y":0.06},{"s":"m3","x":1.091,"y":0},{"s":"m3","x":1.11,"y":0},{"s":"m3","x":1.118,"y":0.045},{"s":"m3","x":1.124,"y":0.094},{"s":"m3","x":1.1277,"y":0.128},{"s":"m3","x":1.1338,"y":0.16},{"s":"m3","x":1.1444,"y":0.195},{"s":"m3","x":1.1516,"y":0.205},{"s":"m3","x":1.1606,"y":0.212},{"s":"m3","x":1.166,"y":0.21},{"s":"m3","x":1.1775,"y":0.197},{"s":"m3","x":1.1878,"y":0.169},{"s":"m3","x":1.2002,"y":0.131},{"s":"m3","x":1.2122,"y":0.107},{"s":"m3","x":1.2243,"y":0.083},{"s":"m3","x":1.2364,"y":0.071},{"s":"m3","x":1.2575,"y":0.066},{"s":"m3","x":1.2726,"y":0.06},{"s":"m3","x":1.2873,"y":0.059},{"s":"m3","x":1.3088,"y":0.055},{"s":"m3","x":1.333,"y":0.055},
{"s":"g3","x":1.025,"y":0},{"s":"g3","x":1.0342,"y":0.031},{"s":"g3","x":1.0433,"y":0.045},{"s":"g3","x":1.055,"y":0.05},{"s":"g3","x":1.0795,"y":0.057},{"s":"g3","x":1.083,"y":0.06},{"s":"g3","x":1.0875,"y":0.107},{"s":"g3","x":1.0915,"y":0.231},{"s":"g3","x":1.0946,"y":0.369},{"s":"g3","x":1.098,"y":0.501},{"s":"g3","x":1.1036,"y":0.486},{"s":"g3","x":1.1097,"y":0.424},{"s":"g3","x":1.1157,"y":0.348},{"s":"g3","x":1.1217,"y":0.28},{"s":"g3","x":1.1278,"y":0.21},{"s":"g3","x":1.1338,"y":0.155},{"s":"g3","x":1.1459,"y":0.093},{"s":"g3","x":1.158,"y":0.052},{"s":"g3","x":1.17,"y":0.025},{"s":"g3","x":1.182,"y":0.01},{"s":"g3","x":1.195,"y":0.003},{"s":"g3","x":1.21,"y":0},
{"s":"r3","x":1.155,"y":0},{"s":"r3","x":1.164,"y":0},{"s":"r3","x":1.173,"y":0.02},{"s":"r3","x":1.182,"y":0.038},{"s":"r3","x":1.2,"y":0.062},{"s":"r3","x":1.221,"y":0.079},{"s":"r3","x":1.242,"y":0.085},{"s":"r3","x":1.2635,"y":0.086},{"s":"r3","x":1.277,"y":0.098},{"s":"r3","x":1.286,"y":0.086},{"s":"r3","x":1.296,"y":0.094},{"s":"r3","x":1.3145,"y":0.097},{"s":"r3","x":1.333,"y":0.094},
{"s":"y5","x":1.16,"y":0},{"s":"y5","x":1.167,"y":0.002},{"s":"y5","x":1.176,"y":0.045},{"s":"y5","x":1.191,"y":0.059},{"s":"y5","x":1.2,"y":0.059},{"s":"y5","x":1.209,"y":0.066},{"s":"y5","x":1.224,"y":0.063},{"s":"y5","x":1.242,"y":0.069},{"s":"y5","x":1.269,"y":0.069},{"s":"y5","x":1.277,"y":0.038},{"s":"y5","x":1.287,"y":0.063},{"s":"y5","x":1.309,"y":0.066},{"s":"y5","x":1.321,"y":0.059},{"s":"y5","x":1.333,"y":0.066}
]
},
"resolve": {"axis": {"x": "independent"}},
"layer": [
{
"data": {"name": "lines"},
"mark": {"type": "line", "strokeWidth": 1, "clip": true, "interpolate": "linear"},
"encoding": {
"x": {"field": "x", "type": "quantitative", "scale": {"domain": [0.4912, 1.3317], "nice": false, "zero": false},
 "axis": {"orient": "bottom", "values": [0.5, 0.6, 0.7, 0.8, 0.9, 1.0, 1.1, 1.2, 1.3], "format": "~g", "title": "Photon energy [eV]", "grid": false, "tickSize": -9, "labelPadding": 13, "tickColor": "#7f7f7f", "domainColor": "#7f7f7f", "domainWidth": 1.5, "labelFontSize": 10, "labelColor": "#333", "titleFontSize": 10, "titleFontWeight": "normal", "titleColor": "#222", "titlePadding": 0, "labelFlush": false}},
"y": {"field": "y", "type": "quantitative", "title": "Photoluminescence intensity [a.u.]", "scale": {"domain": [0, 1], "nice": false, "zero": false},
 "axis": {"orient": "left", "values": [0, 0.1, 0.2, 0.3, 0.4, 0.5, 0.6, 0.7, 0.8, 0.9, 1], "format": "~g"}},
"color": {"field": "s", "type": "nominal", "legend": null,
 "scale": {"domain": ["b3","k1","c4","r1","m1","y1","b1","g1","b2","g2","c1","y2","y3","y6","m5","r2","m2","c2","y4","m3","g3","r3","y5"],
 "range": ["#1515ff","#555555","#2cc8c8","#ff2222","#cc3acc","#c8c22a","#1515ff","#1f8f1f","#1515ff","#1f8f1f","#2cc8c8","#c8c22a","#c8c22a","#c8c22a","#cc3acc","#ff2222","#cc3acc","#2cc8c8","#c8c22a","#cc3acc","#1f8f1f","#ff2222","#c8c22a"]}}
}
},
{
"data": {"name": "tips"},
"mark": {"type": "point", "filled": true, "fill": "#ffffe4", "stroke": "#c9c9b9", "strokeWidth": 1, "opacity": 1, "size": 4},
"encoding": {
"x": {"field": "x", "type": "quantitative", "scale": {"domain": [0.4912, 1.3317], "nice": false, "zero": false}, "axis": null},
"y": {"field": "y", "type": "quantitative", "title": "Photoluminescence intensity [a.u.]", "scale": {"domain": [0, 1], "nice": false, "zero": false},
 "axis": {"orient": "left", "values": [0, 0.1, 0.2, 0.3, 0.4, 0.5, 0.6, 0.7, 0.8, 0.9, 1], "format": "~g"}},
"shape": {"field": "label", "type": "nominal", "legend": null,
 "scale": {"domain": ["0.726 eV","0.816 eV","0.851 eV","0.886 eV","0.919 eV","0.937 eV","0.95 eV","0.974 eV","0.998 eV","1.1 eV"],
 "range": ["M4,-20H45V-4H4Z","M4,-20H45V-4H4Z","M-45,-20H-4V-4H-45Z","M4,-20H45V-4H4Z","M-45,-20H-4V-4H-45Z","M4,-20H45V-4H4Z","M4,-20H41V-4H4Z","M4,-20H45V-4H4Z","M4,-20H45V-4H4Z","M4,-20H36V-4H4Z"]}}
}
},
{
"data": {"name": "tips"},
"mark": {"type": "square", "filled": true, "color": "black", "opacity": 1, "size": 45, "stroke": "#f0f0c8", "strokeWidth": 0.5},
"encoding": {
"x": {"field": "x", "type": "quantitative", "scale": {"domain": [0.4912, 1.3317], "nice": false, "zero": false},
 "axis": {"orient": "top", "values": [0.5, 0.6, 0.7, 0.8, 0.9, 1.0, 1.1, 1.2, 1.3], "labels": false, "title": null, "domain": false, "grid": false, "tickSize": -9, "tickColor": "#7f7f7f"}},
"y": {"field": "y", "type": "quantitative", "title": "Photoluminescence intensity [a.u.]", "scale": {"domain": [0, 1], "nice": false, "zero": false},
 "axis": {"orient": "left", "values": [0, 0.1, 0.2, 0.3, 0.4, 0.5, 0.6, 0.7, 0.8, 0.9, 1], "format": "~g"}}
}
},
{
"data": {"name": "tips"},
"transform": [{"filter": {"not": {"field": "label", "oneOf": ["0.851 eV", "0.919 eV"]}}}],
"mark": {"type": "text", "align": "left", "baseline": "middle", "dx": 8, "dy": -12, "fontSize": 8.5, "color": "#222"},
"encoding": {
"x": {"field": "x", "type": "quantitative", "scale": {"domain": [0.4912, 1.3317], "nice": false, "zero": false}, "axis": null},
"y": {"field": "y", "type": "quantitative", "title": "Photoluminescence intensity [a.u.]", "scale": {"domain": [0, 1], "nice": false, "zero": false},
 "axis": {"orient": "left", "values": [0, 0.1, 0.2, 0.3, 0.4, 0.5, 0.6, 0.7, 0.8, 0.9, 1], "format": "~g"}},
"text": {"field": "label"}
}
},
{
"data": {"name": "tips"},
"transform": [{"filter": {"field": "label", "oneOf": ["0.851 eV", "0.919 eV"]}}],
"mark": {"type": "text", "align": "right", "baseline": "middle", "dx": -8, "dy": -12, "fontSize": 8.5, "color": "#222"},
"encoding": {
"x": {"field": "x", "type": "quantitative", "scale": {"domain": [0.4912, 1.3317], "nice": false, "zero": false}, "axis": null},
"y": {"field": "y", "type": "quantitative", "title": "Photoluminescence intensity [a.u.]", "scale": {"domain": [0, 1], "nice": false, "zero": false},
 "axis": {"orient": "left", "values": [0, 0.1, 0.2, 0.3, 0.4, 0.5, 0.6, 0.7, 0.8, 0.9, 1], "format": "~g"}},
"text": {"field": "label"}
}
}
]
}
